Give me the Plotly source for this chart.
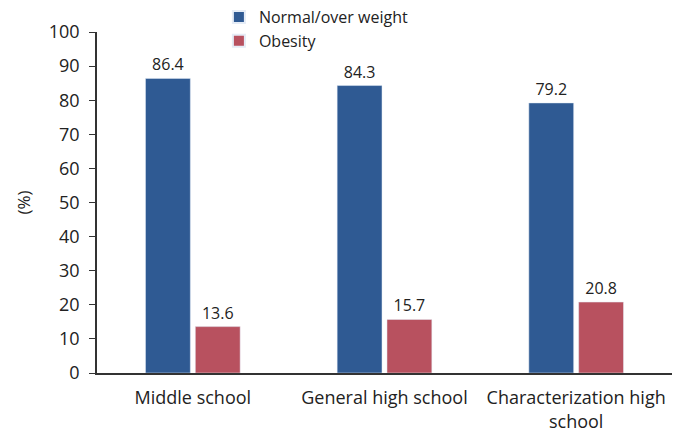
import plotly.graph_objects as go

categories = ["Middle school", "General high school", "Characterization high<br>school"]
normal_over = [86.4, 84.3, 79.2]
obesity = [13.6, 15.7, 20.8]
series_names = ["Normal/over weight", "Obesity"]
y_ticks = list(range(0, 101, 10))

font_family = "Open Sans, Lato, sans-serif"
blue = "#2F5A93"
red = "#B8515F"

fig = go.Figure()
fig.add_trace(go.Bar(x=categories, y=normal_over, name=series_names[0], marker_color=blue,
                     text=[f"{v:.1f}" for v in normal_over], textposition="outside",
                     textfont=dict(size=16, color="#222"), cliponaxis=False))
fig.add_trace(go.Bar(x=categories, y=obesity, name=series_names[1], marker_color=red,
                     text=[f"{v:.1f}" for v in obesity], textposition="outside",
                     textfont=dict(size=16, color="#222"), cliponaxis=False))

fig.update_layout(
    width=678, height=435,
    margin=dict(l=97, r=6, t=32, b=62, autoexpand=False),
    paper_bgcolor="white", plot_bgcolor="white",
    font=dict(family=font_family, size=18, color="#222"),
    barmode="group", bargap=0.48, bargroupgap=0.1,
    legend=dict(x=0.212, y=1.0, yref="container", xanchor="left", yanchor="top",
                bgcolor="rgba(0,0,0,0)", font=dict(size=16), tracegroupgap=0,
                itemsizing="constant"),
    yaxis=dict(range=[0, 100], tickvals=y_ticks, showgrid=False, zeroline=False,
               showline=True, linecolor="#333", linewidth=1.5, ticks="outside", ticklen=6,
               tickcolor="#333", ticklabelstandoff=6,
               title=dict(text="(%)", font=dict(size=17), standoff=14)),
    xaxis=dict(showline=True, linecolor="#333", linewidth=1.5, ticks="", showgrid=False,
               ticklabelstandoff=8),
)

fig.write_html("out.html")
